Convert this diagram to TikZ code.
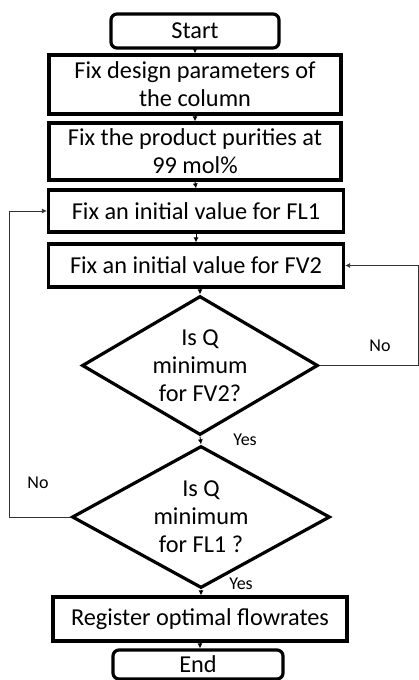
\documentclass[tikz,border=0pt]{standalone}
\usepackage{fontspec}
\setmainfont{Carlito}
\usetikzlibrary{shapes.geometric,arrows.meta}
\begin{document}
\begin{tikzpicture}[x=1pt,y=-1pt,
  every node/.style={font=\fontsize{24.3}{28}\selectfont, align=center, inner sep=0pt},
  term/.style={draw, line width=3.2pt, rounded corners=6pt},
  proc/.style={draw, line width=3.2pt},
  decis/.style={draw, diamond, line width=3.2pt, inner sep=-40pt},
  arr/.style={-{Latex[length=5pt,width=5pt]}, line width=0.9pt},
  fb/.style={-{Latex[length=5pt,width=5pt]}, line width=0.8pt, draw=black!80},
  lbl/.style={font=\fontsize{18}{20}\selectfont}]
\useasboundingbox (0,0) rectangle (419,680);
\node[term, minimum width=168pt, minimum height=34pt] (start) at (195,31) {Start};
\node[proc, minimum width=292pt, minimum height=59pt] (b1) at (195,84.5) {Fix design parameters of\\the column};
\node[proc, minimum width=292pt, minimum height=57pt] (b2) at (195,151.5) {Fix the product purities at\\99 mol\%};
\node[proc, minimum width=295pt, minimum height=42pt] (b3) at (196,211) {Fix an initial value for FL1};
\node[proc, minimum width=295pt, minimum height=43pt] (b4) at (196,265.5) {Fix an initial value for FV2};
\node[decis, minimum width=236pt, minimum height=139pt] (d1) at (200,365.5) {Is Q\\minimum\\for FV2?};
\node[decis, minimum width=258pt, minimum height=142pt] (d2) at (201,517) {Is Q\\minimum\\for FL1 ?};
\node[proc, minimum width=294pt, minimum height=44pt] (b5) at (200,619) {Register optimal flowrates};
\node[term, minimum width=170pt, minimum height=29pt] (end) at (198,664.5) {End};
\coordinate (rgt) at (418,365.5);
\coordinate (lft) at (9,517);
\draw[arr] (start.south) -- (b1.north);
\draw[arr] (b1.south) -- (b2.north);
\draw[arr] (b2.south) -- (b3.north);
\draw[arr] (b3.south) -- (b4.north);
\draw[arr] (b4.south -| d1.north) -- (d1.north);
\draw[arr] (d1.south) -- (d2.north);
\draw[arr] (d2.south) -- (b5.north -| d2.south);
\draw[arr] (b5.south) -- (end.north -| b5.south);
\draw[fb] (d1.east) -- (rgt) |- (b4.east);
\draw[fb] (d2.west) -- (lft) |- (b3.west);
\node[lbl] (no1) at (380,346) {No};
\node[lbl] (yes1) at (245,440) {Yes};
\node[lbl] (no2) at (38,483) {No};
\node[lbl] (yes2) at (241,584) {Yes};
\end{tikzpicture}
\end{document}
